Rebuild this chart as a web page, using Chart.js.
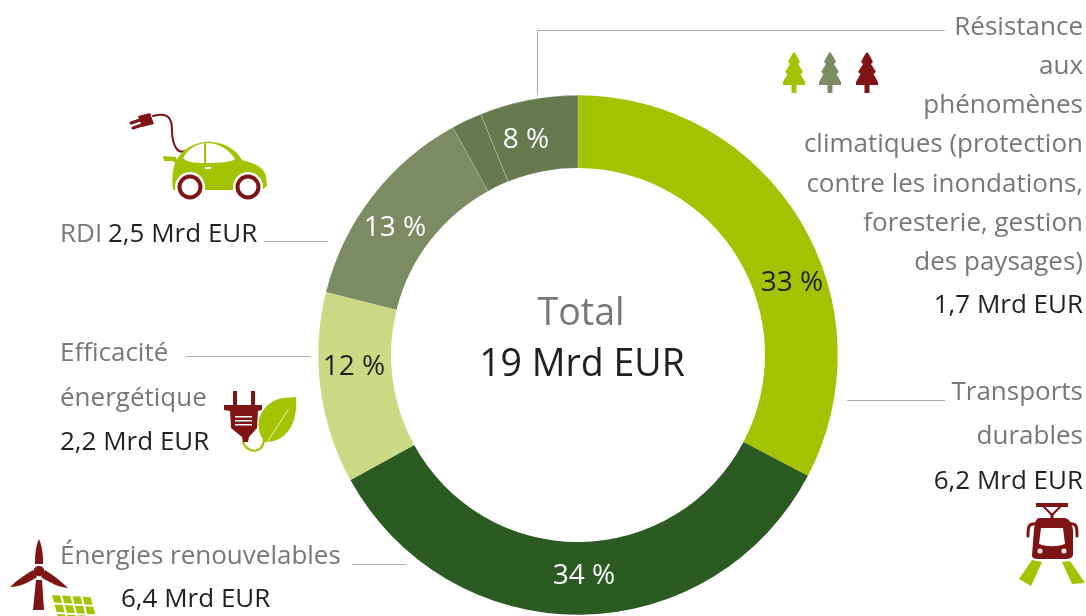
<!DOCTYPE html>
<html>
<head>
<meta charset="utf-8">
<title>Total 19 Mrd EUR</title>
<script src="https://cdn.jsdelivr.net/npm/chart.js@4"></script>
<style>
    html, body { margin: 0; padding: 0; background: #fff; overflow: hidden; }
    canvas { display: block; }
</style>
</head>
<body>
<canvas id="donut" width="1086" height="616"></canvas>
<script>
//================================ Data ================================
// Share of the ring in percent, clockwise from the top
var sliceNames = ['Transports durables', 'Énergies renouvelables', 'Efficacité énergétique', 'RDI', 'Résistance (a)', 'Résistance (b)'];
var sliceValues = [32.7, 34.3, 11.9, 13.1, 1.9, 6.1];
var sliceColors = ['#a2c300', '#2b5a22', '#cbd984', '#7d8b62', '#66794f', '#66794f'];
var percentLabels = ['33 %', '34 %', '12 %', '13 %', '8 %'];
var totalTitle = 'Total';
var totalValue = '19 Mrd EUR';

//================================ Text and decoration =======================================
var FONT = '"Open Sans", sans-serif';
var GREY = '#76777a';
var DARK = '#231f20';
var MAROON = '#7f1416';
var GREEN = '#a2c300';
var SIZE = 26;

// text, x, baseline, align, colour
var textLines = [
    ['Résistance', 1083, 35, 'right', GREY],
    ['aux', 1083, 74, 'right', GREY],
    ['phénomènes', 1083, 113, 'right', GREY],
    ['climatiques (protection', 1083, 152, 'right', GREY],
    ['contre les inondations,', 1083, 192, 'right', GREY],
    ['foresterie, gestion', 1083, 231, 'right', GREY],
    ['des paysages)', 1083, 270, 'right', GREY],
    ['1,7 Mrd EUR', 1083, 313, 'right', DARK],
    ['Transports', 1083, 400, 'right', GREY],
    ['durables', 1083, 444, 'right', GREY],
    ['6,2 Mrd EUR', 1083, 489, 'right', DARK],
    ['RDI', 60, 242, 'left', GREY],
    ['2,5 Mrd EUR', 108, 242, 'left', DARK],
    ['Efficacité', 60, 361, 'left', GREY],
    ['énergétique', 60, 406, 'left', GREY],
    ['2,2 Mrd EUR', 60, 450, 'left', DARK],
    ['Énergies renouvelables', 60, 564, 'left', GREY],
    ['6,4 Mrd EUR', 121, 607, 'left', DARK]
];

// where each percent label sits, and its colour
var percentSpots = [[792, 283, DARK], [584, 576, '#fff'], [354, 367, DARK], [395, 228, '#fff'], [526, 140, '#fff']];

var leaderLines = [
    [[945, 30], [537, 30], [537, 94]],
    [[264, 241], [328, 241]],
    [[186, 356], [310, 356]],
    [[352, 564], [406, 564]],
    [[847, 400], [945, 400]]
];

function fillPath(ctx, d, color) {
    ctx.fillStyle = color;
    ctx.fill(new Path2D(d));
}

function strokePath(ctx, d, color, width) {
    ctx.strokeStyle = color;
    ctx.lineWidth = width;
    ctx.lineCap = 'round';
    ctx.stroke(new Path2D(d));
}

function drawTree(ctx, cx, color) {
    ctx.save();
    ctx.translate(cx, 52);
    fillPath(ctx, 'M0 0 C2 2 4 6 6 10 L4 12 L9 20 L6.5 22 L11 30 L11 33 L2.5 33 L2.5 41 L-2.5 41 L-2.5 33 L-11 33 L-11 30 L-6.5 22 L-9 20 L-4 12 L-6 10 C-4 6 -2 2 0 0 Z', color);
    ctx.restore();
}

function drawCar(ctx) {
    strokePath(ctx, 'M153 116 C168 112 172 118 172 130 C172 146 178 154 185 151', MAROON, 2);
    fillPath(ctx, 'M138 116 L150 113 L154 124 L142 127 Z', MAROON);
    strokePath(ctx, 'M131 123 L140 120', MAROON, 3);
    strokePath(ctx, 'M133 128 L142 125', MAROON, 3);
    fillPath(ctx, 'M163 156 L176 157 L178 164 L172 161 L164 161 Z', GREEN);
    fillPath(ctx, 'M173 190 C171 172 174 162 180 155 C188 145 202 141 212 142 C226 143 236 150 242 160 C254 163 264 167 266 176 L267 186 L262 190 Z', GREEN);
    fillPath(ctx, 'M183 158 C187 150 195 145 204 143 L204 163 C194 163 186 162 183 158 Z', '#fff');
    fillPath(ctx, 'M206 143 C220 143 229 150 235 159 C232 162 220 163 206 163 Z', '#fff');
    fillPath(ctx, 'M205 167 h6 v2 h-6 Z', '#fff');
    [190, 248].forEach(function(x) {
        ctx.fillStyle = '#fff';
        ctx.beginPath();
        ctx.arc(x, 187, 15, 0, Math.PI * 2);
        ctx.fill();
        ctx.strokeStyle = MAROON;
        ctx.lineWidth = 4;
        ctx.beginPath();
        ctx.arc(x, 187, 10.5, 0, Math.PI * 2);
        ctx.stroke();
    });
}

function drawPlugLeaf(ctx) {
    fillPath(ctx, 'M265 442 C255 430 256 412 272 402 C282 396 292 398 296 397 C298 418 290 442 265 442 Z', GREEN);
    strokePath(ctx, 'M268 441 L288 410', '#fff', 0.8);
    strokePath(ctx, 'M243 442 C246 452 262 456 264 440', GREEN, 2.2);
    fillPath(ctx, 'M233 391 h4 v14 h-4 Z M251 391 h4 v14 h-4 Z', MAROON);
    fillPath(ctx, 'M224 405 L262 405 L262 410 L258 411 L257 428 L249 437 L248 442 L243 442 L242 437 L231 428 L230 411 L224 410 Z', MAROON);
    fillPath(ctx, 'M235 416 h17 v1.5 h-17 Z M235 420 h17 v1.5 h-17 Z M235 424 h17 v1.5 h-17 Z', '#fff');
}

function drawTram(ctx) {
    fillPath(ctx, 'M1036 503 h32 v4 h-32 Z', MAROON);
    strokePath(ctx, 'M1043 506 L1052 515 L1061 506', MAROON, 2);
    strokePath(ctx, 'M1052 515 V520', MAROON, 3);
    fillPath(ctx, 'M1039 518 L1065 518 C1070 519 1072 524 1073 530 L1073 555 C1072 558 1070 559 1064 559 L1040 559 C1034 559 1032 558 1032 555 L1034 530 C1035 524 1035 519 1039 518 Z', MAROON);
    fillPath(ctx, 'M1041 528 L1063 528 L1065 544 C1056 547 1048 547 1039 544 Z', '#fff');
    strokePath(ctx, 'M1037 524 C1028 523 1028 527 1028 536', MAROON, 3);
    strokePath(ctx, 'M1069 524 C1077 523 1077 527 1077 536', MAROON, 3);
    ctx.fillStyle = '#f3e3e3';
    [1040, 1064].forEach(function(x) {
        ctx.beginPath();
        ctx.arc(x, 551, 2.6, 0, Math.PI * 2);
        ctx.fill();
    });
    fillPath(ctx, 'M1032 560 L1042 562 L1031 586 L1019 579 Z', GREEN);
    fillPath(ctx, 'M1062 562 L1070 561 L1085 583 L1072 584 Z', GREEN);
}

function drawTurbine(ctx) {
    fillPath(ctx, 'M39 539 C43 548 43 558 43 564 L35 564 C35 558 35 548 39 539 Z', MAROON);
    fillPath(ctx, 'M10 587 C17 580 25 575 33 570 L37 577 C28 583 19 587 10 587 Z', MAROON);
    fillPath(ctx, 'M68 588 C59 587 50 583 41 577 L45 570 C53 575 61 581 68 588 Z', MAROON);
    fillPath(ctx, 'M36 580 L42 580 L44 610 L33 610 Z', MAROON);
    ctx.fillStyle = MAROON;
    ctx.beginPath();
    ctx.arc(39, 571, 5.3, 0, Math.PI * 2);
    ctx.fill();
    // small solar panel, cut by the page edge
    ctx.fillStyle = GREEN;
    for (var row = 0; row < 3; row++) {
        for (var col = 0; col < 4; col++) {
            var x = 52 + col * 10.2 + row * 2.6;
            var y = 595 + col * 0.6 + row * 9.5;
            ctx.beginPath();
            ctx.moveTo(x, y);
            ctx.lineTo(x + 8, y + 0.4);
            ctx.lineTo(x + 10, y + 8);
            ctx.lineTo(x + 2, y + 7.6);
            ctx.closePath();
            ctx.fill();
        }
    }
}

var decorationPlugin = {
    id: 'decoration',
    afterDraw: function(chart) {
        var ctx = chart.ctx;
        ctx.save();

        ctx.strokeStyle = '#a7a9ac';
        ctx.lineWidth = 1;
        leaderLines.forEach(function(line) {
            ctx.beginPath();
            line.forEach(function(p, i) {
                if (i === 0) ctx.moveTo(p[0], p[1] + 0.5);
                else ctx.lineTo(p[0] + (line.length > 2 ? 0.5 : 0), p[1] + 0.5);
            });
            ctx.stroke();
        });

        ctx.textBaseline = 'alphabetic';
        ctx.font = SIZE + 'px ' + FONT;
        textLines.forEach(function(t) {
            ctx.textAlign = t[3];
            ctx.fillStyle = t[4];
            ctx.fillText(t[0], t[1], t[2]);
        });

        ctx.textAlign = 'center';
        ctx.textBaseline = 'middle';
        ctx.font = '28px ' + FONT;
        percentLabels.forEach(function(label, i) {
            ctx.fillStyle = percentSpots[i][2];
            ctx.fillText(label, percentSpots[i][0], percentSpots[i][1]);
        });

        ctx.textBaseline = 'alphabetic';
        ctx.font = '37.5px ' + FONT;
        ctx.fillStyle = GREY;
        ctx.fillText(totalTitle, 581, 325);
        ctx.fillStyle = DARK;
        ctx.fillText(totalValue, 582, 376);

        drawTree(ctx, 794, GREEN);
        drawTree(ctx, 830, '#7d8b62');
        drawTree(ctx, 867, MAROON);
        drawCar(ctx);
        drawPlugLeaf(ctx);
        drawTram(ctx);
        drawTurbine(ctx);

        ctx.restore();
    }
};

//================================ Doughnut ==================================================
var chrt = document.getElementById('donut').getContext('2d');
var config = {
    type: 'doughnut',
    data: {
        labels: sliceNames,
        datasets: [{
            data: sliceValues,
            backgroundColor: sliceColors,
            borderColor: 'rgba(255,255,255,0.35)',
            borderWidth: [0, 0, 0, 0, 0.6, 0.6]
        }]
    },
    options: {
        responsive: false,
        animation: false,
        cutout: '72%',
        layout: { padding: { left: 318, right: 248, top: 95, bottom: 1 } },
        plugins: { legend: { display: false }, tooltip: { enabled: false } }
    },
    plugins: [decorationPlugin]
};
var donutChart = new Chart(chrt, config);
</script>
</body>
</html>
